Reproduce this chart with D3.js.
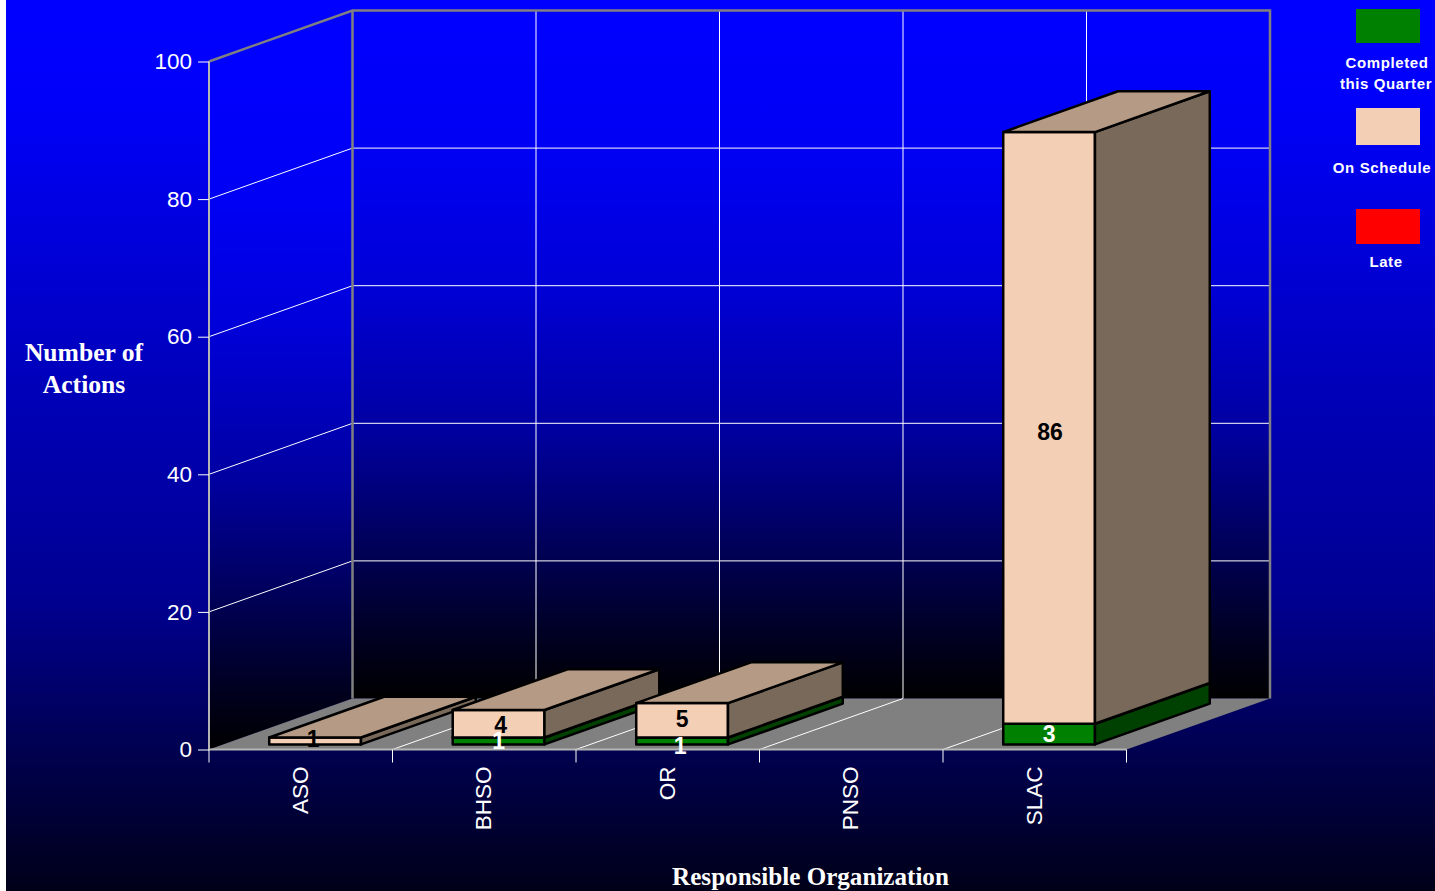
<!DOCTYPE html>
<html>
<head>
<meta charset="utf-8">
<script src="https://cdn.jsdelivr.net/npm/d3@7"></script>
<style>
html,body{margin:0;padding:0;background:#fff;overflow:hidden}
svg{display:block}
</style>
</head>
<body>
<svg id="chart" width="1435" height="891"></svg>
<script>
const organizations = ["ASO", "BHSO", "OR", "PNSO", "SLAC"];
const completedThisQuarter = [0, 1, 1, 0, 3];
const onSchedule = [1, 4, 5, 0, 86];
const late = [0, 0, 0, 0, 0];
const valueTicks = [0, 20, 40, 60, 80, 100];
const legendLines = [["Completed", "this Quarter"], ["On Schedule"], ["Late"]];
// Small hand adjustments for the value labels, [dx, dy] per organization
const scheduleLabelShift = [[-2, -2], [2, 1], [0, -1], [0, 0], [1, 4]];
const completedLabelShift = [[0, 0], [0, 0], [-2, 5], [0, 0], [0, 0]];

const svg = d3.select("#chart");
const defs = svg.append("defs");
function verticalGradient(id, top, bottom, stops) {
  const g = defs.append("linearGradient").attr("id", id)
    .attr("gradientUnits", "userSpaceOnUse")
    .attr("x1", 0).attr("x2", 0).attr("y1", top).attr("y2", bottom);
  stops.forEach(([y, blue]) => g.append("stop")
    .attr("offset", (y - top) / (bottom - top))
    .attr("stop-color", d3.rgb(0, 0, blue)));
}
verticalGradient("page", 0, 891, [[0, 255], [100, 250], [380, 187], [600, 144], [750, 80], [891, 24]]);
verticalGradient("backWall", 11, 698, [[11, 255], [150, 244], [280, 216], [430, 160], [560, 80], [640, 32], [698, 0]]);
verticalGradient("sideWall", 61, 749, [[61, 255], [200, 244], [330, 216], [480, 160], [610, 80], [690, 32], [749, 0]]);

svg.append("rect").attr("x", 6).attr("y", 0).attr("width", 1429).attr("height", 891).attr("fill", "url(#page)");

// Oblique projection: x along categories, y along values, depth runs 0..1 front to back
const xScale = d3.scaleBand().domain(organizations).range([209, 1126.5]);
const yScale = d3.scaleLinear().domain([0, 100]).range([749.5, 61.5]);
const depthX = d3.scaleLinear().domain([0, 1]).range([0, 143.5]);
const depthY = d3.scaleLinear().domain([0, 1]).range([0, -51]);
const project = (px, value, depth) => [px + depthX(depth), yScale(value) + depthY(depth)];
const pathOf = pts => "M" + pts.map(p => p.join(",")).join("L") + "Z";

const [xLeft, xRight] = xScale.range();
const boundaries = organizations.map(d => xScale(d)).concat([xRight]);

// Walls and floor
const room = svg.append("g");
room.append("path").attr("fill", "url(#sideWall)")
  .attr("d", pathOf([project(xLeft, 0, 0), project(xLeft, 100, 0), project(xLeft, 100, 1), project(xLeft, 0, 1)]));
room.append("path").attr("fill", "url(#backWall)")
  .attr("d", pathOf([project(xLeft, 0, 1), project(xLeft, 100, 1), project(xRight, 100, 1), project(xRight, 0, 1)]));
room.append("path").attr("fill", "#808080")
  .attr("d", pathOf([project(xLeft, 0, 0), project(xRight, 0, 0), project(xRight, 0, 1), project(xLeft, 0, 1)]));

// Grid lines
const polyline = pts => "M" + pts.map(p => p.join(",")).join("L");
room.selectAll("path.value-grid").data(valueTicks.filter(v => v > 0 && v < 100)).join("path")
  .attr("class", "value-grid").attr("fill", "none").attr("stroke", "#ffffff").attr("stroke-width", 1)
  .attr("d", v => polyline([project(xLeft, v, 0), project(xLeft, v, 1), project(xRight, v, 1)]));
room.selectAll("path.cat-grid").data(boundaries.slice(1, -1)).join("path")
  .attr("class", "cat-grid").attr("fill", "none").attr("stroke", "#ffffff").attr("stroke-width", 1)
  .attr("d", b => polyline([project(b, 0, 0), project(b, 0, 1), project(b, 100, 1)]));

// Wall outlines
room.append("path").attr("fill", "none").attr("stroke", "#808080").attr("stroke-width", 2.5)
  .attr("d", polyline([project(xLeft, 100, 0), project(xLeft, 100, 1), project(xRight, 100, 1), project(xRight, 0, 1)]));
room.append("path").attr("fill", "none").attr("stroke", "#808080").attr("stroke-width", 2.5)
  .attr("d", polyline([project(xLeft, 100, 1), project(xLeft, 0, 1)]));
room.append("path").attr("fill", "none").attr("stroke", "#b4b4b4").attr("stroke-width", 2)
  .attr("d", polyline([project(xLeft, 100, 0), project(xLeft, 0, 0), project(xRight, 0, 0)]));

// Axes
const sansFont = "'Liberation Sans', Arial, sans-serif";
const yAxis = d3.axisLeft(yScale).tickValues(valueTicks).tickSize(11).tickPadding(6);
const yg = svg.append("g").attr("transform", `translate(${xLeft},0)`).call(yAxis);
yg.select(".domain").remove();
yg.selectAll("line").attr("stroke", "#ffffff");
yg.selectAll("text").attr("fill", "#ffffff").attr("font-family", sansFont).attr("font-size", 22.5);

const xAxis = d3.axisBottom(xScale).tickSize(0).tickPadding(0);
const xg = svg.append("g").attr("transform", `translate(0,${yScale(0)})`).call(xAxis);
xg.select(".domain").remove();
xg.selectAll("text")
  .attr("fill", "#ffffff").attr("font-family", sansFont).attr("font-size", 22.5)
  .attr("transform", "translate(-1,17) rotate(-90)")
  .attr("text-anchor", "end").attr("x", 0).attr("y", 0).attr("dy", "0.35em");
svg.append("g").selectAll("line").data(boundaries).join("line")
  .attr("x1", b => b).attr("x2", b => b).attr("y1", yScale(0)).attr("y2", yScale(0) + 13)
  .attr("stroke", "#ffffff");

// Stacked bars, front-left to back-right painter's order
const barBand = xScale.bandwidth();
const barLeft = d => xScale(d) + barBand * 0.25;
const barRight = d => xScale(d) + barBand * 0.75;
const frontDepth = 0.1, backDepth = 0.9;
const palette = {
  completed: {front: "#008000", side: "#004000", top: "#006000"},
  schedule: {front: "#f3cfb6", side: "#79695a", top: "#b59b85"}
};
const barsLayer = svg.append("g").attr("stroke", "#000000").attr("stroke-width", 2.5).attr("stroke-linejoin", "round");
const labelsLayer = svg.append("g").attr("font-family", sansFont)
  .attr("font-size", 23).attr("font-weight", "bold").attr("text-anchor", "middle");

function drawSegment(cat, v0, v1, colors) {
  const l = barLeft(cat), r = barRight(cat);
  barsLayer.append("path").attr("fill", colors.front)
    .attr("d", pathOf([project(l, v0, frontDepth), project(r, v0, frontDepth), project(r, v1, frontDepth), project(l, v1, frontDepth)]));
  barsLayer.append("path").attr("fill", colors.side)
    .attr("d", pathOf([project(r, v0, frontDepth), project(r, v0, backDepth), project(r, v1, backDepth), project(r, v1, frontDepth)]));
  barsLayer.append("path").attr("fill", colors.top)
    .attr("d", pathOf([project(l, v1, frontDepth), project(r, v1, frontDepth), project(r, v1, backDepth), project(l, v1, backDepth)]));
}
function drawLabel(cat, v0, v1, fill, shift) {
  const p = project((barLeft(cat) + barRight(cat)) / 2, (v0 + v1) / 2, frontDepth);
  labelsLayer.append("text").attr("x", p[0] + shift[0]).attr("y", p[1] + shift[1])
    .attr("dy", "0.35em").attr("fill", fill).text(v1 - v0);
}
organizations.forEach((cat, i) => {
  const c = completedThisQuarter[i], s = onSchedule[i];
  if (c > 0) drawSegment(cat, 0, c, palette.completed);
  if (s > 0) drawSegment(cat, c, c + s, palette.schedule);
});
organizations.forEach((cat, i) => {
  const c = completedThisQuarter[i], s = onSchedule[i];
  if (s > 0) drawLabel(cat, c, c + s, "#000000", scheduleLabelShift[i]);
  if (c > 0) drawLabel(cat, 0, c, "#ffffff", completedLabelShift[i]);
});

// Axis titles
const titleFont = "'Liberation Serif', 'Times New Roman', serif";
const axisTitles = svg.append("g").attr("font-family", titleFont).attr("font-weight", "bold")
  .attr("fill", "#ffffff").attr("text-anchor", "middle");
axisTitles.append("text").attr("x", 84).attr("y", 361).attr("font-size", 25.6).text("Number of");
axisTitles.append("text").attr("x", 84).attr("y", 393).attr("font-size", 25.6).text("Actions");
axisTitles.append("text").attr("x", 810.5).attr("y", 885).attr("font-size", 25.1).text("Responsible Organization");

// Legend
const legendFill = ["#008000", "#f3cfb6", "#ff0000"];
const legendBoxes = [[9, 34], [108, 37], [209, 35]];
const legendText = [[[1387, 68], [1386, 89]], [[1382, 173]], [[1386, 267]]];
const legend = svg.append("g");
legendFill.forEach((fill, i) => {
  legend.append("rect").attr("x", 1356).attr("y", legendBoxes[i][0]).attr("width", 64).attr("height", legendBoxes[i][1]).attr("fill", fill);
  legendLines[i].forEach((line, j) => {
    legend.append("text").attr("x", legendText[i][j][0]).attr("y", legendText[i][j][1])
      .attr("text-anchor", "middle").attr("fill", "#ffffff")
      .attr("font-family", sansFont).attr("font-weight", "bold")
      .attr("font-size", 15).attr("letter-spacing", 0.6).text(line);
  });
});
</script>
</body>
</html>
